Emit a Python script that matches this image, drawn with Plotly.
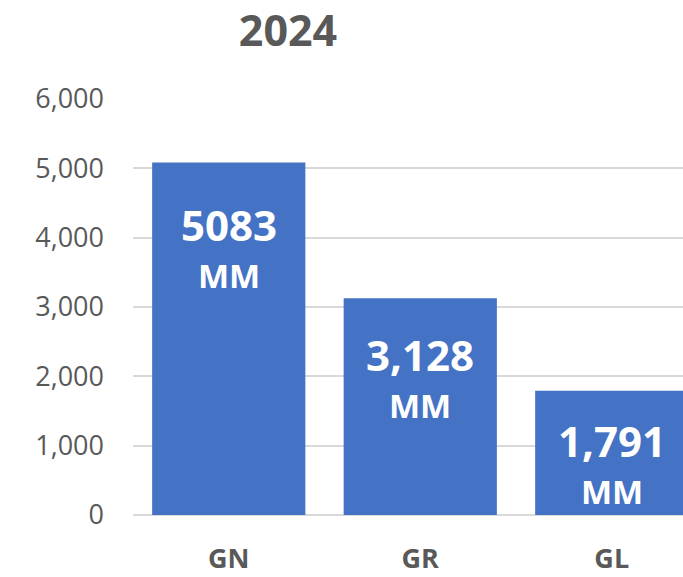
import plotly.graph_objects as go

categories = ["GN", "GR", "GL"]
values = [5083, 3128, 1791]
value_labels = ["5083", "3,128", "1,791"]
unit_label = "MM"
y_ticks = [0, 1000, 2000, 3000, 4000, 5000, 6000]
y_tick_labels = ["0", "1,000", "2,000", "3,000", "4,000", "5,000", "6,000"]
title_text = "2024"

# styling (pixel offsets of in-bar labels below bar top)
num_offsets = [62, 56, 50]
unit_gap = 51

GRAY = "#595959"
BLUE = "#4472C4"
FONT = "Open Sans"

fig = go.Figure(go.Bar(
    x=categories, y=values, marker=dict(color=BLUE, line=dict(width=0)),
    width=0.8, hoverinfo="skip",
))

annotations = []
for i, (c, v, lab) in enumerate(zip(categories, values, value_labels)):
    annotations.append(dict(x=c, y=v, xref="x", yref="y", text=lab, showarrow=False,
                            yanchor="middle", yshift=-num_offsets[i],
                            font=dict(family=FONT, size=42, color="white", weight="bold")))
    annotations.append(dict(x=c, y=v, xref="x", yref="y", text=unit_label, showarrow=False,
                            yanchor="middle", yshift=-(num_offsets[i] + unit_gap),
                            font=dict(family=FONT, size=33, color="white", weight="bold")))

fig.update_layout(
    width=683, height=577,
    margin=dict(l=133, r=0, t=99, b=62),
    paper_bgcolor="white", plot_bgcolor="white",
    showlegend=False,
    title=dict(text=title_text, x=288 / 683, xanchor="center", y=1 - 31 / 577, yanchor="middle",
               font=dict(family=FONT, size=43, color=GRAY, weight="bold"), automargin=False),
    xaxis=dict(range=[-0.5, 2.372], showgrid=False, zeroline=False, showline=False, ticks="",
               tickfont=dict(family=FONT, size=27, color=GRAY, weight="bold"),
               ticklabelstandoff=25, fixedrange=True, automargin=False),
    yaxis=dict(range=[0, 6000], tickvals=y_ticks, ticktext=y_tick_labels,
               showgrid=True, gridcolor="#D9D9D9", gridwidth=1.5,
               zeroline=True, zerolinecolor="#D9D9D9", zerolinewidth=1.5,
               showline=False, ticks="",
               tickfont=dict(family=FONT, size=27, color=GRAY),
               ticklabelstandoff=28, fixedrange=True, automargin=False),
    annotations=annotations,
)

fig.write_html("out.html", config={"displayModeBar": False},
               post_script="document.body.style.margin='0px';document.body.style.overflow='hidden';")
